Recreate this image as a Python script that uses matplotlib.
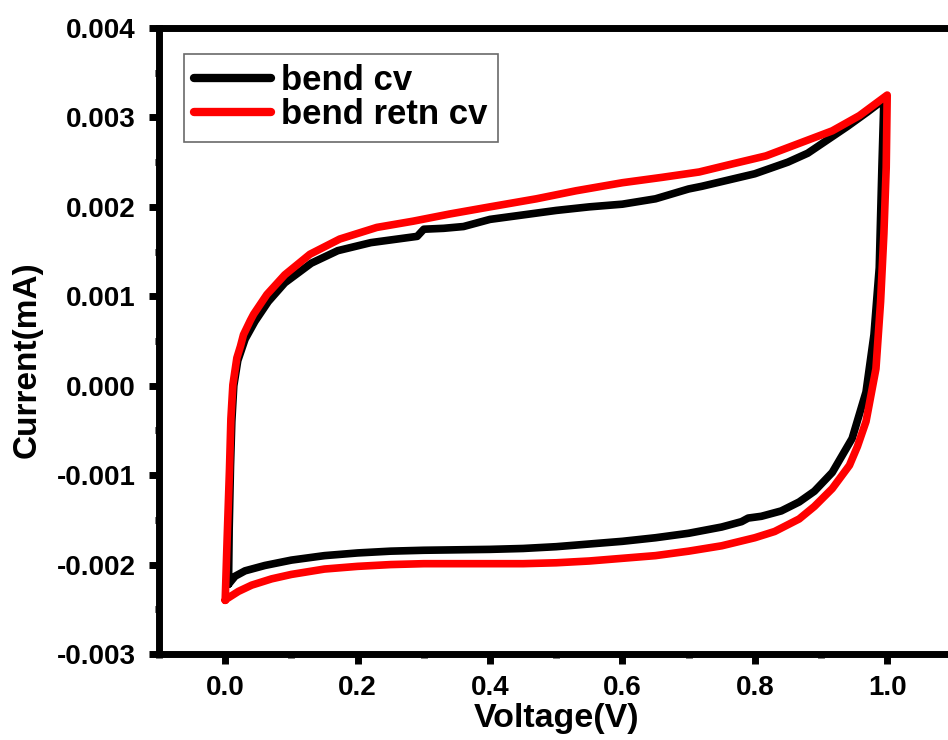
import numpy as np
import matplotlib
matplotlib.use('Agg')
import matplotlib.pyplot as plt
from matplotlib.ticker import MultipleLocator, FuncFormatter

plt.rcParams['font.family'] = ['Liberation Sans', 'DejaVu Sans']
plt.rcParams['font.weight'] = 'bold'

# bend cv (black) - forward sweep 0 -> 1 V
bk_fwd_v = [0.005, 0.006, 0.008, 0.010, 0.013, 0.019, 0.03, 0.045, 0.065, 0.09, 0.13, 0.17,
            0.22, 0.27, 0.29, 0.30, 0.33, 0.36, 0.40, 0.45, 0.50, 0.55, 0.60, 0.65, 0.70,
            0.72, 0.76, 0.80, 0.85, 0.88, 0.91, 0.94, 0.97, 0.995]
bk_fwd_i = [-0.00222, -0.0016, -0.0009, -0.0004, 0.0000, 0.00028, 0.00052, 0.00072, 0.00094,
            0.00115, 0.00137, 0.00151, 0.00160, 0.00165, 0.00167, 0.00175, 0.00176, 0.00178,
            0.00186, 0.00191, 0.00196, 0.00200, 0.00203, 0.00209, 0.00220, 0.00223, 0.00230,
            0.00237, 0.00250, 0.00260, 0.00275, 0.00290, 0.00306, 0.00320]
# bend cv (black) - reverse sweep 1 -> 0 V
bk_rev_v = [0.995, 0.992, 0.988, 0.980, 0.968, 0.947, 0.917, 0.89, 0.867, 0.84, 0.81, 0.79,
            0.78, 0.75, 0.70, 0.65, 0.60, 0.55, 0.50, 0.45, 0.40, 0.30, 0.25, 0.20, 0.15,
            0.10, 0.06, 0.03, 0.015, 0.005]
bk_rev_i = [0.00320, 0.00244, 0.00132, 0.00057, -0.00007, -0.00059, -0.00097, -0.00118,
            -0.00130, -0.00140, -0.00146, -0.00148, -0.00152, -0.00158, -0.00165, -0.00170,
            -0.00174, -0.00177, -0.00180, -0.00182, -0.00183, -0.00184, -0.00185, -0.00187,
            -0.00190, -0.00195, -0.00201, -0.00207, -0.00213, -0.00222]

# bend retn cv (red) - forward sweep
rd_fwd_v = [0.000, 0.003, 0.0065, 0.0086, 0.0116, 0.0176, 0.023, 0.0276, 0.038, 0.043, 0.063,
            0.09, 0.128, 0.173, 0.229, 0.284, 0.339, 0.40, 0.47, 0.53, 0.60, 0.66, 0.716,
            0.766, 0.817, 0.867, 0.917, 0.958, 1.000]
rd_fwd_i = [-0.00240, -0.00170, -0.00093, -0.00037, 0.00001, 0.00031, 0.00044, 0.00057,
            0.00073, 0.00080, 0.00102, 0.00124, 0.00147, 0.00164, 0.00177, 0.00184, 0.00192,
            0.00200, 0.00209, 0.00218, 0.00227, 0.00233, 0.00239, 0.00248, 0.00257, 0.00271,
            0.00285, 0.00302, 0.00325]
# bend retn cv (red) - reverse sweep
rd_rev_v = [1.000, 0.9985, 0.995, 0.990, 0.983, 0.968, 0.955, 0.943, 0.917, 0.89, 0.867, 0.83,
            0.80, 0.75, 0.70, 0.65, 0.60, 0.55, 0.50, 0.45, 0.40, 0.35, 0.30, 0.25, 0.20,
            0.15, 0.10, 0.07, 0.04, 0.02, 0.003, 0.000]
rd_rev_i = [0.00325, 0.00244, 0.00170, 0.00094, 0.00019, -0.00040, -0.00068, -0.00089,
            -0.00115, -0.00135, -0.00149, -0.00163, -0.00170, -0.00179, -0.00185, -0.00190,
            -0.00193, -0.00196, -0.00198, -0.00199, -0.00199, -0.00199, -0.00199, -0.00200,
            -0.00202, -0.00205, -0.00211, -0.00216, -0.00223, -0.00230, -0.00238, -0.00240]

fig = plt.figure(figsize=(9.48, 7.4), dpi=100)
ax = fig.add_axes([159/948, 1-654/740, 794.4/948, 626/740])

ax.plot(bk_fwd_v + bk_rev_v, bk_fwd_i + bk_rev_i, color='black', lw=5.5,
        solid_capstyle='round', solid_joinstyle='round', label='bend cv')
ax.plot(rd_fwd_v + rd_rev_v, rd_fwd_i + rd_rev_i, color='#ff0000', lw=5.5,
        solid_capstyle='round', solid_joinstyle='round', label='bend retn cv')

ax.set_xlim(-0.1, 1.1)
ax.set_ylim(-0.003, 0.004)
ax.xaxis.set_major_locator(MultipleLocator(0.2))
ax.xaxis.set_minor_locator(MultipleLocator(0.1))
ax.yaxis.set_major_locator(MultipleLocator(0.001))
ax.yaxis.set_minor_locator(MultipleLocator(0.0005))
ax.xaxis.set_major_formatter(FuncFormatter(lambda v, p: '%.1f' % v))
ax.yaxis.set_major_formatter(FuncFormatter(lambda v, p: ('%.3f' % v).replace('-0.000', '0.000')))

for s in ax.spines.values():
    s.set_linewidth(5)
ax.tick_params(which='major', direction='out', length=7, width=5, labelsize=20, pad=8)
ax.tick_params(axis='y', which='major', pad=10)
ax.tick_params(which='minor', direction='out', length=3, width=5)
for lab in ax.get_xticklabels() + ax.get_yticklabels():
    lab.set_fontweight('bold')

ax.set_xlabel('Voltage(V)', fontsize=24.5, fontweight='bold')
ax.set_ylabel('Current(mA)', fontsize=24, fontweight='bold')
ax.xaxis.set_label_coords(0.5006, -0.079)
ax.yaxis.set_label_coords(-0.147, 0.4704)

leg = ax.legend(loc='upper left', bbox_to_anchor=(184/948, 1-54/740),
                bbox_transform=fig.transFigure, borderaxespad=0, fancybox=False,
                frameon=True, prop={'size': 25, 'weight': 'bold'}, handlelength=2.2,
                handletextpad=0.3, labelspacing=0.02, borderpad=0.3)
leg.get_frame().set_edgecolor('#444444')
leg.get_frame().set_linewidth(1.2)
for h in leg.get_lines():
    h.set_linewidth(6)

fig.savefig('out.png', dpi=100)
